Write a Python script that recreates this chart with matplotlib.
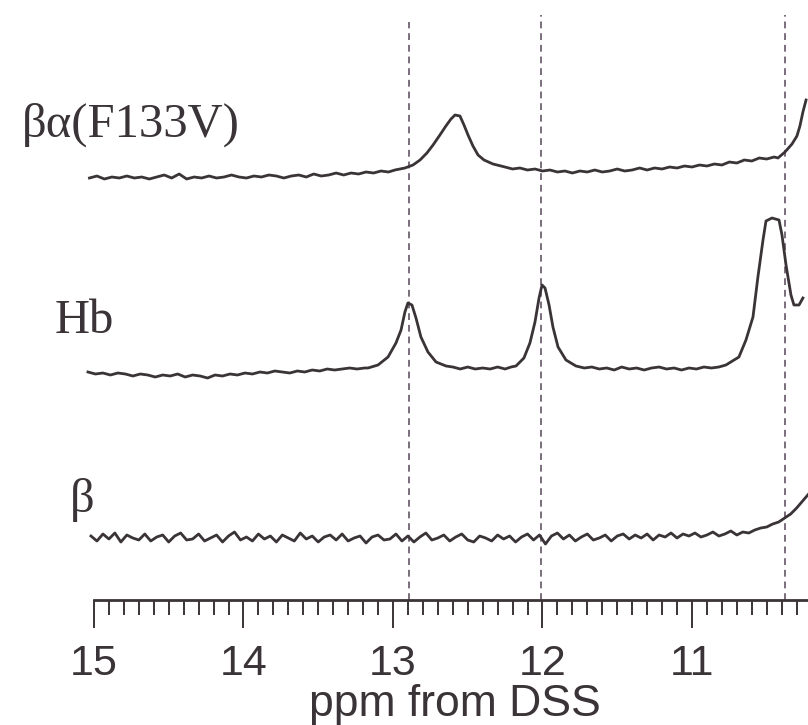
import matplotlib.pyplot as plt
import numpy as np

# chemical shift axis (ppm from DSS), spectra
# heights are in arbitrary units above each trace's baseline offset

top_ppm = [15.03, 14.98, 14.93, 14.88, 14.83, 14.78, 14.73, 14.68, 14.63, 14.58,
           14.53, 14.48, 14.43, 14.38, 14.33, 14.28, 14.23, 14.18, 14.13, 14.08,
           14.03, 13.98, 13.93, 13.88, 13.83, 13.78, 13.73, 13.68, 13.63, 13.58,
           13.53, 13.48, 13.43, 13.38, 13.33, 13.28, 13.23, 13.18, 13.13, 13.08,
           13.03, 12.987, 12.920, 12.866, 12.819, 12.773, 12.732, 12.686, 12.646, 12.612,
           12.585, 12.552, 12.525, 12.498, 12.465, 12.431, 12.391, 12.331, 12.251, 12.20,
           12.151, 12.10, 12.05, 12.00, 11.95, 11.90, 11.85, 11.80, 11.75, 11.70,
           11.65, 11.60, 11.55, 11.50, 11.45, 11.40, 11.35, 11.30, 11.25, 11.20,
           11.15, 11.10, 11.05, 11.00, 10.95, 10.90, 10.85, 10.80, 10.75, 10.70,
           10.65, 10.60, 10.55, 10.50, 10.45, 10.425, 10.378, 10.331, 10.298, 10.278,
           10.258, 10.237]
top_int = [-3, -1, -4, -2, -3, -1, -3, -2, -4, -2,
           0, -3, 1, -4, -2, -3, -1, -3, -2, 0,
           -2, -3, -1, -2, 0, -1, -3, -1, 0, -2,
           1, -1, 0, 2, 0, 2, 1, 3, 2, 4,
           3, 5, 7, 10, 15, 22, 30, 40, 49, 56,
           60, 59, 50, 40, 29, 20, 15, 11, 8, 6,
           7, 5, 6, 4, 5, 3, 4, 2, 4, 3,
           5, 3, 4, 6, 4, 5, 7, 5, 7, 6,
           8, 7, 9, 8, 10, 9, 11, 10, 13, 12,
           15, 14, 17, 16, 18, 17, 23, 31, 39, 49,
           63, 75]

hb_ppm = [15.04, 14.99, 14.94, 14.89, 14.84, 14.79, 14.74, 14.69, 14.64, 14.59,
          14.54, 14.49, 14.44, 14.39, 14.34, 14.29, 14.24, 14.19, 14.14, 14.09,
          14.04, 13.99, 13.94, 13.89, 13.84, 13.79, 13.74, 13.69, 13.64, 13.59,
          13.54, 13.49, 13.44, 13.39, 13.34, 13.29, 13.24, 13.19, 13.167, 13.100,
          13.033, 12.980, 12.946, 12.920, 12.900, 12.873, 12.846, 12.813, 12.766, 12.712,
          12.645, 12.60, 12.55, 12.50, 12.45, 12.40, 12.35, 12.30, 12.25, 12.21,
          12.177, 12.124, 12.084, 12.050, 12.023, 12.003, 11.983, 11.956, 11.930, 11.896,
          11.843, 11.776, 11.72, 11.67, 11.62, 11.57, 11.52, 11.47, 11.42, 11.37,
          11.32, 11.27, 11.22, 11.17, 11.12, 11.07, 11.02, 10.97, 10.92, 10.87,
          10.82, 10.773, 10.686, 10.639, 10.592, 10.559, 10.525, 10.505, 10.465, 10.418,
          10.398, 10.371, 10.338, 10.318, 10.284, 10.258]
hb_int = [-2, -4, -3, -5, -3, -4, -6, -4, -5, -7,
          -5, -6, -4, -7, -5, -6, -8, -5, -6, -4,
          -5, -3, -4, -2, -3, -1, -2, -3, -1, -2,
          0, -1, 1, 0, 1, 2, 1, 2, 2, 5,
          13, 27, 40, 58, 67, 65, 52, 33, 18, 8,
          4, 3, 1, 3, 1, 2, 1, 3, 1, 3,
          4, 12, 27, 48, 72, 85, 82, 65, 43, 23,
          10, 4, 2, 3, 1, 2, 0, 3, 1, 2,
          0, 2, 3, 1, 2, 0, 2, 1, 3, 2,
          3, 5, 13, 30, 53, 93, 130, 149, 152, 150,
          135, 105, 75, 65, 65, 72]

# beta chain trace, sampled every 0.04 ppm from 15.02 down to 10.22
beta_int = [2, -3, 4, -1, 5, -4, 3, 0, -2, 4,
            -3, 1, 3, -4, 2, 5, -2, -1, 4, -3,
            0, 3, -4, 2, 6, -2, 1, -3, 4, -1,
            2, -4, 3, 0, -3, 5, -1, 2, -4, 1,
            3, -2, 4, -3, 0, 2, -5, 1, 3, -2,
            -1, 4, -3, 2, -4, 1, 5, -2, 0, 3,
            -3, 1, 4, -2, -4, 2, 0, -3, 3, -1,
            2, -4, 1, 4, -2, 3, -6, 2, 5, -1,
            3, -3, 1, 4, -2, 0, 3, -3, 2, 4,
            -1, 3, 0, 4, -2, 3, 1, 5, 0, 4,
            2, 5, 1, 3, 6, 2, 4, 7, 3, 6,
            5, 8, 10, 11, 14, 16, 20, 24, 30, 37,
            44]
beta_ppm = np.linspace(15.02, 10.22, len(beta_int))

labels = ["βα(F133V)", "Hb", "β"]
offsets = [425, 230, 62]
label_pos = [(15.48, 463), (15.26, 267), (15.16, 88)]

marker_ppm = [12.89, 12.01, 10.38]
marker_top = [578, 585, 585]

major_ticks = [15, 14, 13, 12, 11]

ink = "#3a3337"
dash_col = "#7a6c7c"

fig = plt.figure(figsize=(8.08, 7.25), dpi=100)
ax = fig.add_axes([79.0 / 808, 125.0 / 725, 729.0 / 808, 600.0 / 725])

for ppm, top in zip(marker_ppm, marker_top):
    ax.plot([ppm, ppm], [0, top], color=dash_col, lw=1.4,
            dashes=(3.5, 2.5), zorder=1)

spectra = [(top_ppm, top_int), (hb_ppm, hb_int), (beta_ppm, beta_int)]
for (xs, ys), off in zip(spectra, offsets):
    ax.plot(xs, np.array(ys) + off, color=ink, lw=2.0, zorder=3,
            solid_joinstyle="round")

for txt, (px, py) in zip(labels, label_pos):
    ax.text(px, py, txt, family="Liberation Serif", fontsize=35,
            color=ink, ha="left", va="baseline")

ax.set_xlim(15.10, 10.224)
ax.set_ylim(0, 600)

for side in ["top", "left", "right"]:
    ax.spines[side].set_visible(False)
ax.spines["bottom"].set_bounds(15.0, 10.224)
ax.spines["bottom"].set_linewidth(2.0)
ax.spines["bottom"].set_color(ink)

ax.set_yticks([])
ax.set_xticks(major_ticks)
ax.set_xticks(np.arange(10.3, 15.0, 0.1), minor=True)
ax.tick_params(axis="x", which="major", direction="out", length=20, width=1.4,
               color=ink, pad=12, labelsize=31, labelcolor=ink)
ax.tick_params(axis="x", which="minor", direction="out", length=11, width=1.4,
               color=ink)
for lab in ax.get_xticklabels():
    lab.set_family("Liberation Sans")

fig.text(455 / 808, (725 - 716) / 725, "ppm from DSS", family="Liberation Sans",
         fontsize=32, color=ink, ha="center", va="baseline")

fig.savefig("out.png", dpi=100)
plt.close(fig)
